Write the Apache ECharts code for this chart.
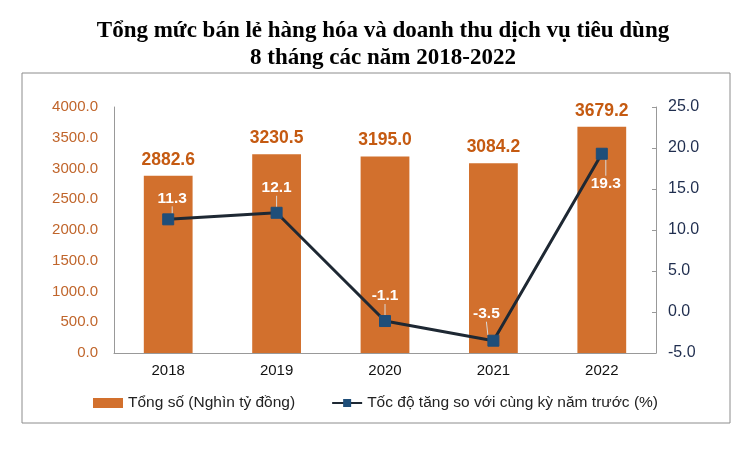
<!DOCTYPE html>
<html><head><meta charset="utf-8">
<script src="https://cdn.jsdelivr.net/npm/echarts@6/dist/echarts.min.js"></script>
<style>html,body{margin:0;padding:0;background:#fff}#c{width:751px;height:450px}</style>
</head><body><div id="c"></div>
<script>
const categories = ['2018','2019','2020','2021','2022'];
const totalValues = [2882.6, 3230.5, 3195.0, 3084.2, 3679.2];
const growthValues = [11.3, 12.1, -1.1, -3.5, 19.3];
const growthLabelShift = [[4,-21],[0,-25],[0,-25],[-7,-27],[4,30]];
const titleText = 'Tổng mức bán lẻ hàng hóa và doanh thu dịch vụ tiêu dùng\n8 tháng các năm 2018-2022';
const seriesNames = ['Tổng số (Nghìn tỷ đồng)', 'Tốc độ tăng so với cùng kỳ năm trước (%)'];

const chart = echarts.init(document.getElementById('c'));
chart.setOption({
  animation: false,
  backgroundColor: '#fff',
  graphic: [{
    type: 'rect', shape: {x: 22, y: 73, width: 708, height: 350},
    style: {fill: 'none', stroke: '#8c8c8c', lineWidth: 1}, silent: true
  }],
  title: {
    text: titleText, left: 378, textAlign: 'center', top: 13,
    textStyle: {fontFamily: 'Liberation Serif', fontWeight: 'bold', fontSize: 23, lineHeight: 27, color: '#000'}
  },
  legend: {
    top: 390, left: 'center', itemGap: 36, itemWidth: 30, itemHeight: 10,
    textStyle: {fontFamily: 'Liberation Sans', fontSize: 15.5, color: '#222'},
    data: [{name: seriesNames[0], icon: 'rect'}, {name: seriesNames[1]}]
  },
  grid: {left: 114, right: 95, top: 107, bottom: 97},
  xAxis: {
    type: 'category', data: categories,
    axisLine: {lineStyle: {color: '#999'}}, axisTick: {show: false},
    axisLabel: {color: '#111', fontFamily: 'Liberation Sans', fontSize: 15, margin: 10}
  },
  yAxis: [{
    type: 'value', min: 0, max: 4000, interval: 500,
    axisLine: {show: true, lineStyle: {color: '#999'}}, axisTick: {show: false},
    splitLine: {show: false},
    axisLabel: {color: '#C0652B', fontFamily: 'Liberation Sans', fontSize: 15, margin: 16, formatter: v => v.toFixed(1)}
  }, {
    type: 'value', min: -5, max: 25, interval: 5,
    axisLine: {show: true, lineStyle: {color: '#999'}},
    axisTick: {show: true, inside: true, length: 4, lineStyle: {color: '#999'}},
    splitLine: {show: false},
    axisLabel: {color: '#1F2D4E', fontFamily: 'Liberation Sans', fontSize: 16, margin: 12, formatter: v => v.toFixed(1)}
  }],
  series: [{
    name: seriesNames[0], type: 'bar', data: totalValues, barWidth: '45%',
    itemStyle: {color: '#D2702D'},
    label: {show: true, position: 'top', distance: 7, color: '#C55A11', fontWeight: 'bold', fontSize: 17.5,
      fontFamily: 'Liberation Sans', formatter: p => p.value.toFixed(1)}
  }, {
    name: seriesNames[1], type: 'line', yAxisIndex: 1, data: growthValues,
    lineStyle: {color: '#1E2833', width: 3}, itemStyle: {color: '#1F4E79', borderColor: '#1F4E79'},
    symbol: 'rect', symbolSize: 11, z: 5,
    label: {show: true, position: 'inside', color: '#fff', fontWeight: 'bold', fontSize: 15.5,
      fontFamily: 'Liberation Sans', formatter: p => p.value.toFixed(1)},
    labelLine: {show: true, lineStyle: {color: '#d9d9d9', width: 1}},
    labelLayout: p => ({dx: growthLabelShift[p.dataIndex][0], dy: growthLabelShift[p.dataIndex][1]})
  }]
});
</script></body></html>
